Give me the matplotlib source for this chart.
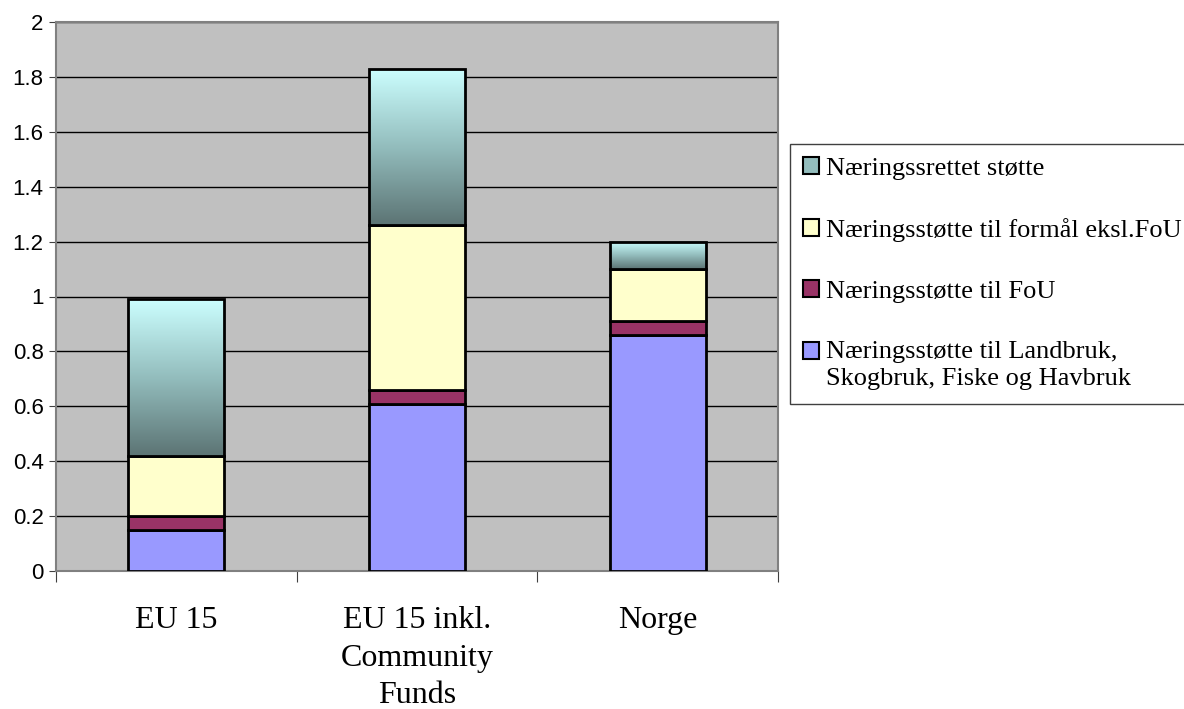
import numpy as np
import matplotlib
matplotlib.use('Agg')
import matplotlib.pyplot as plt
from matplotlib.colors import LinearSegmentedColormap
from matplotlib.patches import Patch, Rectangle
from matplotlib.legend_handler import HandlerPatch

categories = ['EU 15', 'EU 15 inkl.\nCommunity\nFunds', 'Norge']
landbruk = [0.15, 0.61, 0.86]
fou = [0.05, 0.05, 0.05]
formal = [0.22, 0.60, 0.19]
rettet = [0.57, 0.57, 0.10]

names = ['Næringsstøtte til Landbruk,\nSkogbruk, Fiske og Havbruk',
         'Næringsstøtte til FoU',
         'Næringsstøtte til formål eksl.FoU',
         'Næringssrettet støtte']
colors = ['#9999FF', '#993366', '#FFFFCC']
teal = LinearSegmentedColormap.from_list('teal', ['#5C7474', '#93BDBD', '#CCFFFF'])

W, H = 1184, 709
fig = plt.figure(figsize=(W / 100, H / 100), dpi=100)
ax = fig.add_axes([56 / W, 1 - 571 / H, (778 - 56) / W, (571 - 22) / H])
ax.set_facecolor('#C0C0C0')

x = np.arange(len(categories))
width = 0.4
bottom = np.zeros(len(categories))
for vals, c in zip([landbruk, fou, formal], colors):
    ax.bar(x, vals, width, bottom=bottom, color=c, edgecolor='black', linewidth=2, zorder=3)
    bottom += vals

# top segment gets a vertical gradient fill clipped to each bar
top = ax.bar(x, rettet, width, bottom=bottom, facecolor='none', edgecolor='black', linewidth=2, zorder=4)
grad = np.linspace(1, 0, 256).reshape(-1, 1)
for rect in top:
    x0, y0 = rect.get_x(), rect.get_y()
    im = ax.imshow(grad, cmap=teal, aspect='auto', origin='upper', zorder=3,
                   extent=(x0, x0 + rect.get_width(), y0, y0 + rect.get_height()))
    im.set_clip_path(rect)

ax.set_xlim(-0.5, 2.5)
ax.set_ylim(0, 2)
yt = np.arange(0, 2.01, 0.2)
ax.set_yticks(yt, [f'{v:g}' for v in np.round(yt, 1)], family='Liberation Sans', fontsize=16)
ax.yaxis.grid(True, color='black', linewidth=1)
ax.set_axisbelow(True)

ax.set_xticks([-0.5, 0.5, 1.5, 2.5], ['', '', '', ''])
ax.set_xticks(x, categories, minor=True, family='Liberation Serif', fontsize=23, linespacing=1.4)
ax.tick_params(axis='x', which='minor', length=0, pad=25)
ax.tick_params(axis='x', which='major', length=8, color='#404040')
ax.tick_params(axis='y', length=5, color='#404040', pad=4)
for s in ax.spines.values():
    s.set_color('#808080')
    s.set_linewidth(1.5)


def first_line_box(legend, orig_handle, xdescent, ydescent, width, height, fontsize):
    # keep the marker level with the first line of a two-line label
    lift = 0.55 * fontsize if orig_handle.get_label() == 'two' else 0
    return Rectangle((-xdescent, -ydescent + lift), width, height)


handles = [Patch(facecolor=c, edgecolor='black', linewidth=1.5) for c in colors]
handles[0].set_label('two')
handles.append(Patch(facecolor='#93BDBD', edgecolor='black', linewidth=1.5))
leg = fig.legend(handles[::-1], names[::-1], loc='upper left', bbox_to_anchor=(790 / W, 1 - 144 / H),
                 prop={'family': 'Liberation Serif', 'size': 19}, frameon=True, fancybox=False,
                 edgecolor='#404040', framealpha=1, handlelength=0.6, handleheight=0.6,
                 handletextpad=0.25, labelspacing=1.45, borderpad=0.5, borderaxespad=0,
                 handler_map={Patch: HandlerPatch(patch_func=first_line_box)})
leg.get_texts()[-1].set_linespacing(1.3)

fig.savefig('out.png', dpi=100)
